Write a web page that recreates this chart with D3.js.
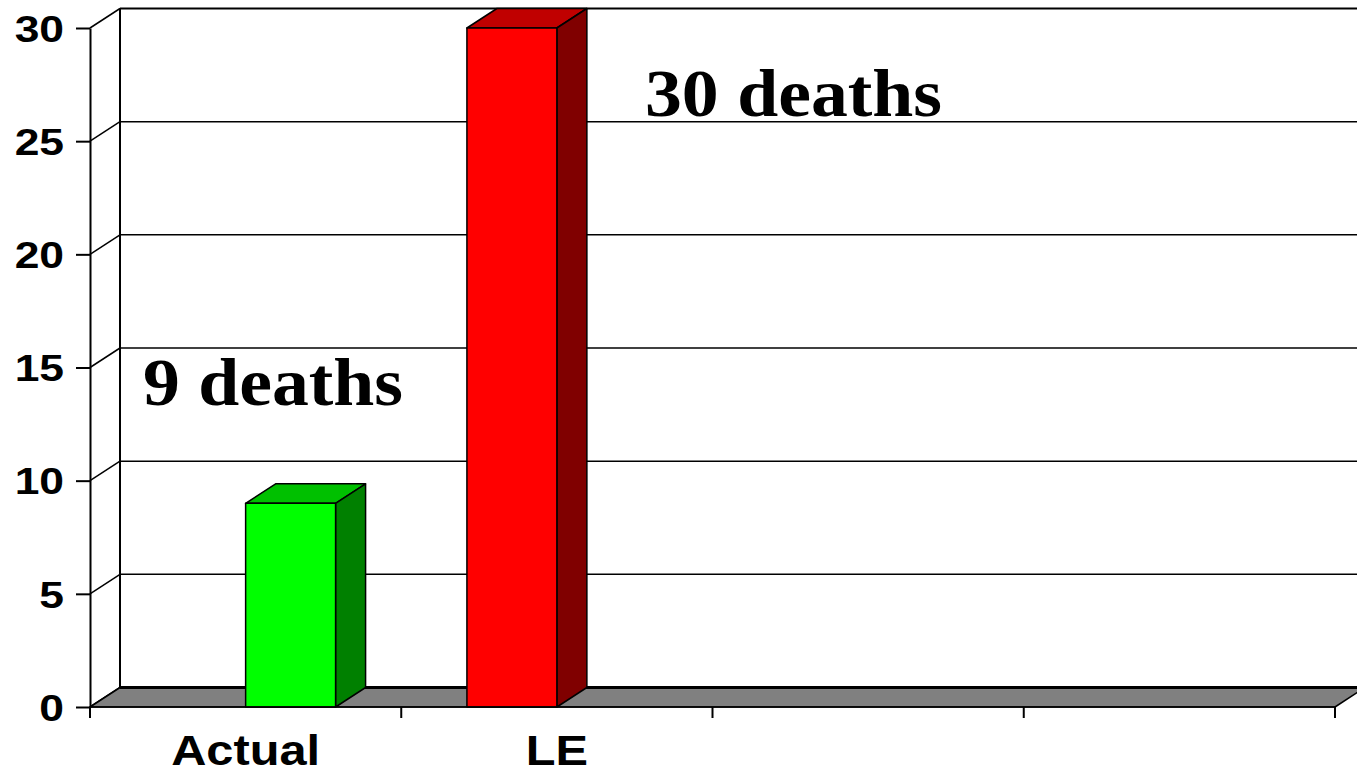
<!DOCTYPE html>
<html>
<head>
<meta charset="utf-8">
<script src="https://cdn.jsdelivr.net/npm/d3@7"></script>
<style>
  body { margin: 0; background: #fff; }
  svg { display: block; }
</style>
</head>
<body>
<div id="chart"></div>
<script>
// data
var categories = ["Actual", "LE", "", ""];
var seriesNames = ["LE", "Actual"];
var leValues = [null, 30, null, null];
var actualValues = [9, null, null, null];
var yTicks = [0, 5, 10, 15, 20, 25, 30];
var notes = [
  { text: "9 deaths", x: 143, y: 405, width: 260 },
  { text: "30 deaths", x: 645, y: 116, width: 297 }
];

var svgWidth = 1357;
var svgHeight = 774;

// 3d depth offset of the back wall
var depthX = 30;
var depthY = -19.5;

var svg = d3.select("#chart")
  .append("svg")
  .attr("width", svgWidth)
  .attr("height", svgHeight);

var x = d3.scaleBand()
  .domain(d3.range(categories.length))
  .range([90, 1335])
  .paddingInner(0)
  .paddingOuter(0);

var xSub = d3.scaleBand()
  .domain(seriesNames)
  .range([0, x.bandwidth()])
  .paddingInner(0)
  .paddingOuter(0.73);

var y = d3.scaleLinear()
  .domain([0, 30])
  .range([707, 28]);

var x0 = x.range()[0], x1 = x.range()[1];

// stretch text horizontally like the original
function stretch(sel, k) {
  sel.each(function() {
    var w = this.getComputedTextLength();
    if (w > 0) {
      d3.select(this)
        .attr("textLength", w * k)
        .attr("lengthAdjust", "spacingAndGlyphs");
    }
  });
}

// back wall gridlines
svg.append("g")
  .selectAll("line")
  .data(yTicks.filter(d => d > 0))
  .enter()
  .append("line")
  .attr("x1", x0 + depthX)
  .attr("x2", x1 + depthX)
  .attr("y1", d => y(d) + depthY)
  .attr("y2", d => y(d) + depthY)
  .attr("stroke", "#000")
  .attr("stroke-width", d => d === 30 ? 2 : 1.5);

// back wall left edge
svg.append("line")
  .attr("x1", x0 + depthX).attr("x2", x0 + depthX)
  .attr("y1", y(30) + depthY).attr("y2", y(0) + depthY)
  .attr("stroke", "#000")
  .attr("stroke-width", 2);

// side wall diagonals
svg.append("g")
  .selectAll("line")
  .data(yTicks)
  .enter()
  .append("line")
  .attr("x1", x0)
  .attr("y1", d => y(d))
  .attr("x2", x0 + depthX)
  .attr("y2", d => y(d) + depthY)
  .attr("stroke", "#000")
  .attr("stroke-width", 1.5);

// floor
var floorPts = [
  [x0, y(0)], [x1, y(0)],
  [x1 + depthX, y(0) + depthY], [x0 + depthX, y(0) + depthY]
];
svg.append("polygon")
  .attr("points", floorPts.map(p => p.join(",")).join(" "))
  .attr("fill", "#808080")
  .attr("stroke", "#000")
  .attr("stroke-width", 1.5)
  .attr("stroke-linejoin", "round");
svg.append("line")
  .attr("x1", x0 + depthX).attr("x2", x1 + depthX)
  .attr("y1", y(0) + depthY).attr("y2", y(0) + depthY)
  .attr("stroke", "#000")
  .attr("stroke-width", 3);

// bars
var bars = [];
categories.forEach(function(c, i) {
  if (leValues[i] != null) bars.push({ cat: i, series: "LE", value: leValues[i], front: "#ff0000", top: "#c00000", side: "#800000" });
  if (actualValues[i] != null) bars.push({ cat: i, series: "Actual", value: actualValues[i], front: "#00ff00", top: "#00c000", side: "#008000" });
});

var barGroup = svg.append("g")
  .selectAll("g")
  .data(bars)
  .enter()
  .append("g");

function pts(arr) { return arr.map(p => p.join(",")).join(" "); }

barGroup.append("polygon")
  .attr("points", function(d) {
    var l = x(d.cat) + xSub(d.series), r = l + xSub.bandwidth();
    var t = y(d.value);
    return pts([[l, t], [r, t], [r + depthX, t + depthY], [l + depthX, t + depthY]]);
  })
  .attr("fill", d => d.top);

barGroup.append("polygon")
  .attr("points", function(d) {
    var r = x(d.cat) + xSub(d.series) + xSub.bandwidth();
    var t = y(d.value), b = y(0);
    return pts([[r, t], [r + depthX, t + depthY], [r + depthX, b + depthY], [r, b]]);
  })
  .attr("fill", d => d.side);

barGroup.append("rect")
  .attr("x", d => x(d.cat) + xSub(d.series))
  .attr("y", d => y(d.value))
  .attr("width", xSub.bandwidth())
  .attr("height", d => y(0) - y(d.value))
  .attr("fill", d => d.front);

barGroup.selectAll("polygon, rect")
  .attr("stroke", "#000")
  .attr("stroke-width", 1.5)
  .attr("stroke-linejoin", "round");

// front y axis
var leftAxis = d3.axisLeft(y)
  .tickValues(yTicks)
  .tickSize(14)
  .tickSizeOuter(0)
  .tickPadding(12);

var yAxis = svg.append("g")
  .attr("transform", `translate(${x0}, 0)`)
  .call(leftAxis);

yAxis.select(".domain").attr("stroke-width", 2);
yAxis.selectAll(".tick line").attr("stroke-width", 2);
yAxis.selectAll("text")
  .attr("font-family", "'Liberation Sans', Arial, sans-serif")
  .attr("font-weight", "bold")
  .attr("font-size", "37px")
  .attr("fill", "#000")
  .attr("dy", "0.36em")
  .call(stretch, 1.2);

// front x axis
svg.append("line")
  .attr("x1", x0).attr("x2", x1)
  .attr("y1", y(0)).attr("y2", y(0))
  .attr("stroke", "#000")
  .attr("stroke-width", 1.5);

svg.append("g")
  .selectAll("line")
  .data(d3.range(categories.length + 1))
  .enter()
  .append("line")
  .attr("x1", i => i < categories.length ? x(i) : x1)
  .attr("x2", i => i < categories.length ? x(i) : x1)
  .attr("y1", y(0))
  .attr("y2", y(0) + 11)
  .attr("stroke", "#000")
  .attr("stroke-width", 2);

svg.append("g")
  .selectAll("text")
  .data(categories)
  .enter()
  .append("text")
  .attr("x", (d, i) => x(i) + x.bandwidth() / 2)
  .attr("y", 765)
  .attr("text-anchor", "middle")
  .attr("font-family", "'Liberation Sans', Arial, sans-serif")
  .attr("font-weight", "bold")
  .attr("font-size", "42px")
  .attr("fill", "#000")
  .text(d => d)
  .call(stretch, 1.16);

// annotations
svg.append("g")
  .selectAll("text")
  .data(notes)
  .enter()
  .append("text")
  .attr("x", d => d.x)
  .attr("y", d => d.y)
  .attr("font-family", "'Liberation Serif', 'Times New Roman', serif")
  .attr("font-weight", "bold")
  .attr("font-size", "68px")
  .attr("fill", "#000")
  .attr("textLength", d => d.width)
  .attr("lengthAdjust", "spacingAndGlyphs")
  .text(d => d.text);
</script>
</body>
</html>
